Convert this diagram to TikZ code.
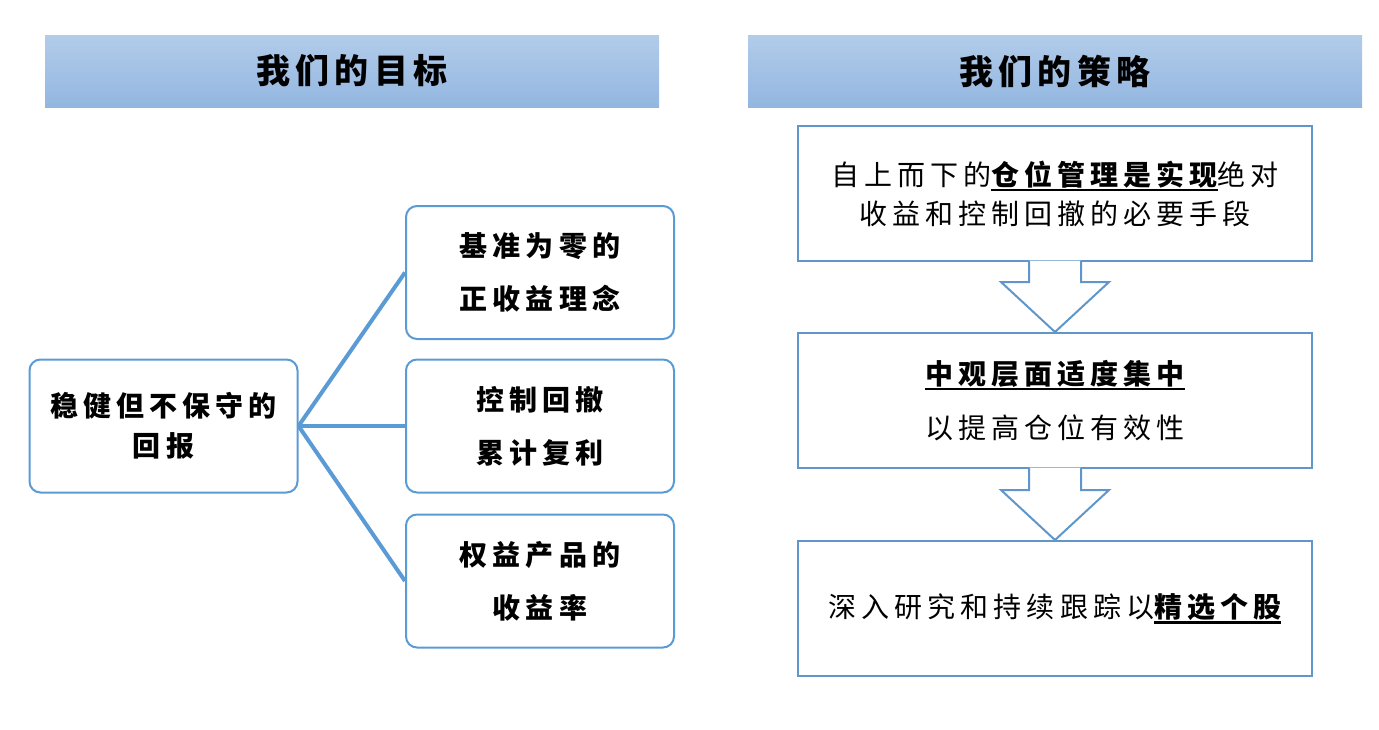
\documentclass[tikz,border=0pt]{standalone}
\usepackage{fontspec}
\setmainfont{Noto Sans CJK SC}
\usepackage{tikz}
\usetikzlibrary{calc}
\pgfdeclarelayer{background}
\pgfdeclarelayer{foreground}
\pgfsetlayers{background,main,foreground}
\definecolor{hdrtop}{HTML}{B2CCEA}
\definecolor{hdrbot}{HTML}{93B6E0}
\definecolor{boxblue}{HTML}{5B9BD5}
\definecolor{stgblue}{HTML}{6196CA}
\newcommand{\keyword}[1]{\setbox0\hbox{\bfseries #1}\rlap{\rule[-6pt]{\wd0}{2.2pt}}\box0}

\begin{document}
\begin{tikzpicture}[x=1pt,y=-1pt,
  hdrbar/.style={minimum width=614pt,minimum height=72pt,inner sep=0pt,
    top color=hdrtop,bottom color=hdrbot,
    font=\fontsize{34}{40}\bfseries\addfontfeature{LetterSpace=16}},
  aimbox/.style={draw=boxblue,line width=2pt,rounded corners=11pt,fill=white,
    minimum width=268pt,minimum height=133pt,align=center,
    font=\fontsize{28}{53}\bfseries\addfontfeature{LetterSpace=18}},
  stgbox/.style={draw=stgblue,line width=2pt,fill=white,
    minimum width=514pt,minimum height=135pt,align=center,
    font=\fontsize{28}{39}\addfontfeature{LetterSpace=18}},
  branch/.style={draw=boxblue,line width=4pt},
  hollow/.style={draw=stgblue,line width=2pt,fill=white}]
\useasboundingbox (0,0) rectangle (1379,729);

% headers
\node[hdrbar] (goalhdr) at (352,71) {我们的目标};
\node[hdrbar] (stghdr) at (1055,71) {我们的策略};

% our goals
\node[aimbox,font=\fontsize{28}{40}\bfseries\addfontfeature{LetterSpace=18}] (goal) at (163.5,426) {稳健但不保守的\\回报};
\node[aimbox] (aim1) at (540,272.5) {基准为零的\\正收益理念};
\node[aimbox] (aim2) at (540,426) {控制回撤\\累计复利};
\node[aimbox] (aim3) at (540,581) {权益产品的\\收益率};
\begin{pgfonlayer}{background}
\draw[branch] (goal.east) -- (aim1.west);
\draw[branch] (goal.east) -- (aim2.west);
\draw[branch] (goal.east) -- (aim3.west);
\end{pgfonlayer}

% our strategy
\node[stgbox] (stg1) at (1055,193.5) {自上而下的\keyword{仓位管理是实现}绝对\\收益和控制回撤的必要手段};
\node[stgbox,font=\fontsize{28}{54}\addfontfeature{LetterSpace=18}] (stg2) at (1055,400.5) {\keyword{中观层面适度集中}\\以提高仓位有效性};
\node[stgbox] (stg3) at (1055,608.5) {深入研究和持续跟踪以\keyword{精选个股}};

\begin{pgfonlayer}{foreground}
\draw[hollow] ($(stg1.south)+(-26,-1.5)$) -- ($(stg1.south)+(-26,20)$) -- ($(stg1.south)+(-54,20)$)
  -- (stg2.north) -- ($(stg1.south)+(54,20)$) -- ($(stg1.south)+(26,20)$) -- ($(stg1.south)+(26,-1.5)$);
\draw[hollow] ($(stg2.south)+(-26,-1.5)$) -- ($(stg2.south)+(-26,21)$) -- ($(stg2.south)+(-54,21)$)
  -- (stg3.north) -- ($(stg2.south)+(54,21)$) -- ($(stg2.south)+(26,21)$) -- ($(stg2.south)+(26,-1.5)$);
\end{pgfonlayer}
\end{tikzpicture}
\end{document}
